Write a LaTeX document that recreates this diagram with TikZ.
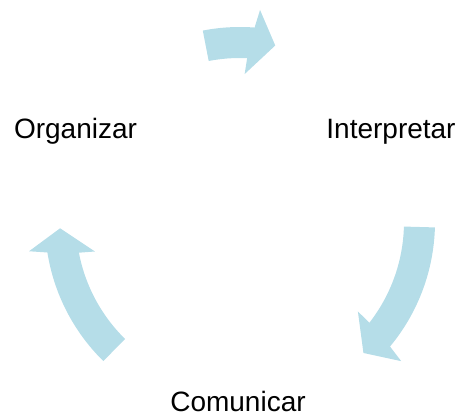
\documentclass[tikz,border=0pt]{standalone}
\usepackage{fontspec}
\setmainfont{Liberation Sans}
\usetikzlibrary{positioning}
\definecolor{cyclefill}{RGB}{181,221,232}
\tikzset{
    x=0.5pt, y=0.5pt, % one unit is one pixel of the reference
    label/.style={anchor=base, font=\fontsize{14}{17}\selectfont}, % the three step names
    cyclearrow/.style={fill=cyclefill, draw=none}, % the bent arrows
}
% #1 = angle of the tail, #2 = angle where the head starts
\newcommand{\bentarrow}[2]{%
  \fill[cyclearrow] (#1:164) arc[start angle=#1, end angle=#2, radius=164]
    -- (#2+0.7:148) -- (#2-8.8:180) -- (#2-2.9:213) -- (#2-1.8:195)
    arc[start angle=#2-1.8, end angle=#1, radius=195] -- cycle;}

\begin{document}
\begin{tikzpicture}
  \useasboundingbox (0,0) rectangle (468,415);

  \node[label] (organizar)   at (75.5,276) {Organizar};
  \node[label] (interpretar) at (391,276)  {Interpretar};
  \node[label] (comunicar)   at (238,3.5)  {Comunicar};

  % arrows round the centre of the cycle
  \begin{scope}[shift={(240,193)}]
    \bentarrow{101}{87.5}
    \bentarrow{-1.6}{-37.9}
    \bentarrow{225.5}{190.8}
  \end{scope}
\end{tikzpicture}
\end{document}
